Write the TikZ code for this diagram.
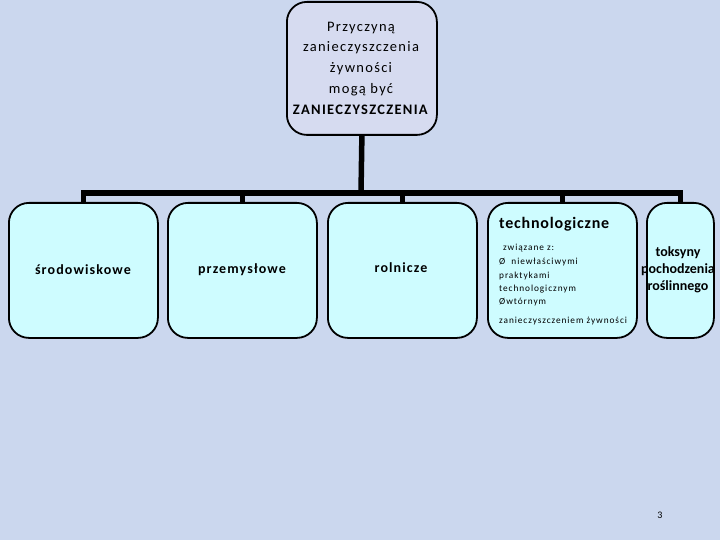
\documentclass[tikz,border=0pt]{standalone}
\usepackage{fontspec}
\setmainfont{Carlito}
\definecolor{bgblue}{RGB}{203,215,238}
\definecolor{boxcyan}{RGB}{206,252,255}
\definecolor{toplav}{RGB}{214,219,240}
\begin{document}
\begin{tikzpicture}[x=1pt,y=-1pt,
  bx/.style={draw=black,line width=1.8pt,rounded corners=20pt,fill=boxcyan,
    minimum width=149pt,minimum height=135pt,inner sep=0pt,anchor=north west},
  lbl/.style={font=\fontsize{14}{17}\selectfont\bfseries\addfontfeature{LetterSpace=8},inner sep=0pt},
  small/.style={font=\fontsize{9.3}{13}\selectfont\addfontfeature{LetterSpace=10},inner sep=0pt,anchor=base west},
  conn/.style={draw=black,line width=5.5pt}]
\useasboundingbox (0,0) rectangle (720,540);
\fill[bgblue] (0,0) rectangle (720,540);
% top box
\node[draw=black,line width=1.8pt,rounded corners=20pt,fill=toplav,
  minimum width=150pt,minimum height=133pt,inner sep=0pt,anchor=north west] (top) at (286,1) {};
\node[align=center,font=\fontsize{14.5}{20.8}\selectfont\addfontfeature{LetterSpace=9},inner sep=0pt] (toptxt) at (361,68)
  {Przyczyną\\zanieczyszczenia\\żywności\\mogą być\\\textbf{ZANIECZYSZCZENIA}};
% boxes
\node[bx] (b1) at (8,202) {};
\node[bx] (b2) at (167,202) {};
\node[bx] (b3) at (327,202) {};
\node[bx] (b4) at (487,202) {};
\node[bx,minimum width=67pt] (b5) at (646,202) {};
% connectors
\coordinate (j) at (361,193);
\draw[conn] (top.south) -- (j);
\draw[conn,line cap=rect] (b1.north |- j) -- (b5.north |- j);
\foreach \b in {b1,b2,b3,b4,b5} \draw[conn] (\b.north |- j) -- (\b.north);
% labels
\node[lbl] (t1) at (83,270) {środowiskowe};
\node[lbl] (t2) at (242,270) {przemysłowe};
\node[lbl] (t3) at (401,268) {rolnicze};
\node[lbl,font=\fontsize{16}{19}\selectfont\bfseries\addfontfeature{LetterSpace=5},anchor=base west] (t4) at (499,229) {technologiczne};
\node[small] (s1) at (503,250) {związane z:};
\node[small] (s2) at (499,264) {Ø\ \ niewłaściwymi};
\node[small] (s3) at (499,278) {praktykami};
\node[small] (s4) at (499,291) {technologicznym};
\node[small] (s5) at (499,304) {Øwtórnym};
\node[small] (s6) at (499,323) {zanieczyszczeniem żywności};
\node[align=center,font=\fontsize{14}{17}\selectfont\bfseries,inner sep=0pt] (t5) at (678,270) {toksyny\\pochodzenia\\roślinnego};
\node[font=\fontsize{10}{12}\selectfont,inner sep=0pt] (pg) at (660,515) {3};
\end{tikzpicture}
\end{document}
